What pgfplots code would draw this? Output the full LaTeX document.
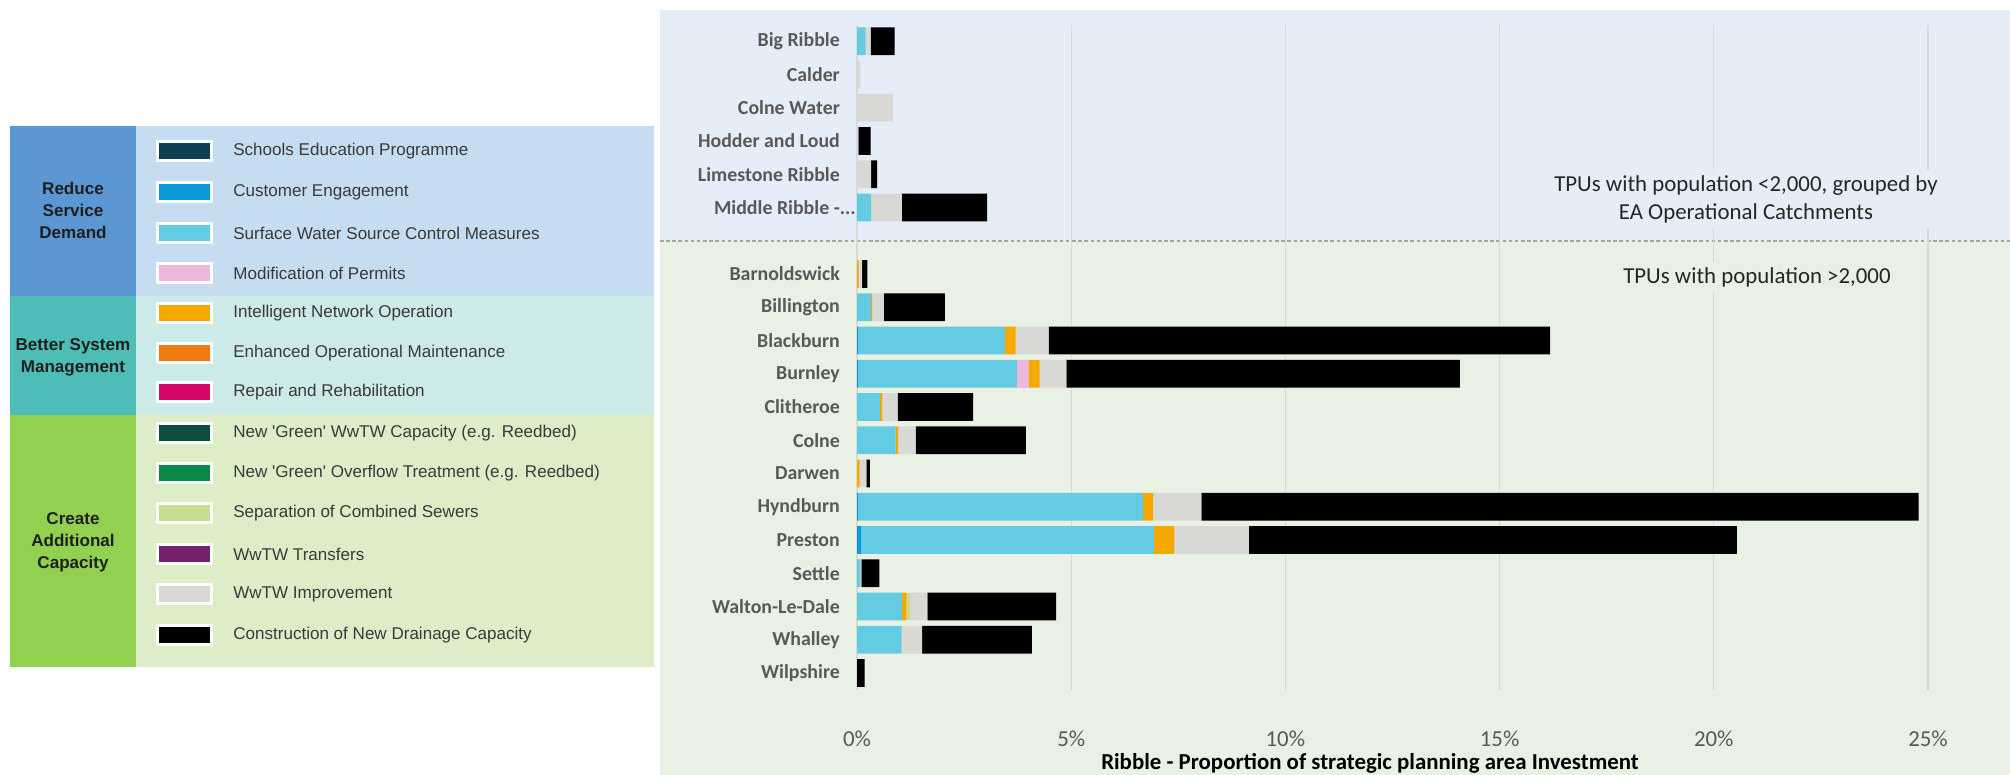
\documentclass[border=0pt]{standalone}
\usepackage{fontspec}
\setmainfont{Carlito}
\newfontfamily\arialfont{Liberation Sans}
\usepackage{pgfplots}
\pgfplotsset{compat=1.18}
\usepackage{pgfplotstable}

\definecolor{cSE}{HTML}{0E3F52}
\definecolor{cCE}{HTML}{0A9AD9}
\definecolor{cSW}{HTML}{63CCE2}
\definecolor{cMP}{HTML}{EDB9DA}
\definecolor{cINO}{HTML}{F5A900}
\definecolor{cEOM}{HTML}{EE7A12}
\definecolor{cRR}{HTML}{D6096B}
\definecolor{cGW}{HTML}{0E4B41}
\definecolor{cGO}{HTML}{0B8A47}
\definecolor{cSEP}{HTML}{C6DE92}
\definecolor{cTR}{HTML}{762170}
\definecolor{cIMP}{HTML}{D8D8D5}
\definecolor{cCND}{HTML}{000000}
\definecolor{topbg}{HTML}{E5EDF8}
\definecolor{botbg}{HTML}{E8F1E3}
\definecolor{rsdL}{HTML}{5B97D3}
\definecolor{rsdR}{HTML}{C6DCF1}
\definecolor{bsmL}{HTML}{4FBDB7}
\definecolor{bsmR}{HTML}{CCEAE7}
\definecolor{cacL}{HTML}{92D050}
\definecolor{cacR}{HTML}{DCEDC8}
\definecolor{txtgray}{HTML}{595959}
\definecolor{gridc}{HTML}{D6DBD6}
\definecolor{dashc}{HTML}{A6A6A6}
\definecolor{legtxt}{HTML}{3A3A3A}

\pgfplotstableread{
y  se  ce   sw    mp   ino  eom rr gw go sep  tr imp  cnd
0  0   0    0.20  0    0    0   0  0  0  0    0  0.12 0.56
1  0   0    0     0    0    0   0  0  0  0    0  0.08 0
2  0   0    0     0    0    0   0  0  0  0    0  0.84 0
3  0   0    0     0    0    0   0  0  0  0    0  0.03 0.29
4  0   0    0     0    0    0   0  0  0  0    0  0.33 0.14
5  0   0    0.33  0    0    0   0  0  0  0    0  0.72 1.99
7  0   0    0     0    0.04 0   0  0  0  0    0  0.08 0.12
8  0   0    0.33  0    0.02 0   0  0  0  0    0  0.28 1.42
9  0   0.03 3.42  0    0.25 0   0  0  0  0    0  0.77 11.71
10 0   0.03 3.70  0.28 0.25 0   0  0  0  0    0  0.63 9.18
11 0   0    0.54  0    0.05 0   0  0  0  0    0  0.36 1.76
12 0   0    0.90  0    0.06 0   0  0  0  0    0  0.41 2.57
13 0   0    0     0    0.06 0   0  0  0  0    0  0.16 0.08
14 0   0.03 6.65  0    0.23 0   0  0  0  0    0  1.13 16.74
15 0   0.10 6.83  0    0.48 0   0  0  0  0    0  1.74 11.39
16 0   0    0.08  0    0    0   0  0  0  0    0  0.02 0.42
17 0   0    1.05  0    0.11 0   0  0  0  0.08 0  0.40 3.01
18 0   0    1.04  0    0    0   0  0  0  0    0  0.48 2.56
19 0   0    0     0    0    0   0  0  0  0    0  0    0.18
}\data

\begin{document}
\begin{tikzpicture}
\path[use as bounding box] (0,0) rectangle (402mm,-155mm);
% ---------- legend panel ----------
\begin{scope}[x=0.2mm,y=-0.2mm]
\fill[rsdL] (10,126) rectangle (136,296);
\fill[rsdR] (136,126) rectangle (654,296);
\fill[bsmL] (10,296) rectangle (136,415);
\fill[bsmR] (136,296) rectangle (654,415);
\fill[cacL] (10,415) rectangle (136,667);
\fill[cacR] (136,415) rectangle (654,667);
\begin{scope}[every node/.style={align=center,font=\arialfont\bfseries\fontsize{9.7}{12.5}\selectfont,text=black!88}]
\node at (73,210) {Reduce\\Service\\Demand};
\node at (73,357) {Better System\\Management};
\node at (73,542) {Create\\Additional\\Capacity};
\end{scope}
\foreach \yy/\cc/\tt in {
 151/cSE/{Schools Education Programme},
 192/cCE/{Customer Engagement},
 233/cSW/{Surface Water Source Control Measures},
 273/cMP/{Modification of Permits},
 313/cINO/{Intelligent Network Operation},
 353/cEOM/{Enhanced Operational Maintenance},
 392/cRR/{Repair and Rehabilitation},
 433/cGW/{New 'Green' WwTW Capacity (e.g. Reedbed)},
 473/cGO/{New 'Green' Overflow Treatment (e.g. Reedbed)},
 513/cSEP/{Separation of Combined Sewers},
 554/cTR/{WwTW Transfers},
 594/cIMP/{WwTW Improvement},
 635/cCND/{Construction of New Drainage Capacity}}{
 \fill[white] (156,\yy-11) rectangle (213,\yy+11);
 \fill[\cc] (159,\yy-8) rectangle (210,\yy+8);
 \node[anchor=west,inner sep=0pt,font=\arialfont\fontsize{9.7}{11}\selectfont,text=legtxt] at (233,\yy) {\tt};
}
% ---------- chart backgrounds ----------
\fill[topbg] (660,10) rectangle (2010,241);
\fill[botbg] (660,241) rectangle (2010,775);
\draw[dashc,dash pattern=on 2pt off 1.5pt,line width=0.6pt] (660,241) -- (2010,241);
\end{scope}

\begin{axis}[
 at={(171.4mm,-137.92mm)}, anchor=south west,
 scale only axis, width=214.2mm, height=133mm,
 xbar stacked, bar width=5.52mm,
 xmin=0, xmax=25, ymin=-0.5, ymax=19.5, y dir=reverse,
 axis line style={draw=none}, major tick length=0pt,
 xtick={0,5,...,25},
 xticklabel={\pgfmathprintnumber{\tick}\%},
 /pgf/number format/assume math mode=true,
 xticklabel style={font=\fontsize{13}{15}\selectfont, text=txtgray, yshift=-7mm},
 xmajorgrids, grid style={color=gridc, line width=0.6pt},
 ytick={0,1,2,3,4,5,7,8,...,19},
 yticklabels={Big Ribble,Calder,Colne Water,Hodder and Loud,Limestone Ribble,Middle Ribble -\rlap{...},Barnoldswick,Billington,Blackburn,Burnley,Clitheroe,Colne,Darwen,Hyndburn,Preston,Settle,Walton-Le-Dale,Whalley,Wilpshire},
 yticklabel style={font=\bfseries\fontsize{11.3}{13}\selectfont, text=txtgray, xshift=-2.2mm},
 every axis plot/.append style={draw=none},
]
\addplot[fill=cSE] table[x=se,y=y]{\data};
\addplot[fill=cCE] table[x=ce,y=y]{\data};
\addplot[fill=cSW] table[x=sw,y=y]{\data};
\addplot[fill=cMP] table[x=mp,y=y]{\data};
\addplot[fill=cINO] table[x=ino,y=y]{\data};
\addplot[fill=cEOM] table[x=eom,y=y]{\data};
\addplot[fill=cRR] table[x=rr,y=y]{\data};
\addplot[fill=cGW] table[x=gw,y=y]{\data};
\addplot[fill=cGO] table[x=go,y=y]{\data};
\addplot[fill=cSEP] table[x=sep,y=y]{\data};
\addplot[fill=cTR] table[x=tr,y=y]{\data};
\addplot[fill=cIMP] table[x=imp,y=y]{\data};
\addplot[fill=cCND] table[x=cnd,y=y]{\data};
\end{axis}

\begin{scope}[x=0.2mm,y=-0.2mm]
\node[fill=topbg,inner sep=3pt,align=center,font=\fontsize{13}{15.9}\selectfont,text=black!85] at (1746,199) {TPUs with population <2,000, grouped by\\EA Operational Catchments};
\node[fill=botbg,inner sep=3pt,font=\fontsize{13}{15}\selectfont,text=black!85] at (1757,277) {TPUs with population >2,000};
\node[anchor=base,inner sep=0pt,font=\bfseries\fontsize{13}{15}\selectfont,text=black] at (1370,770) {Ribble - Proportion of strategic planning area Investment};
\end{scope}
\end{tikzpicture}
\end{document}
